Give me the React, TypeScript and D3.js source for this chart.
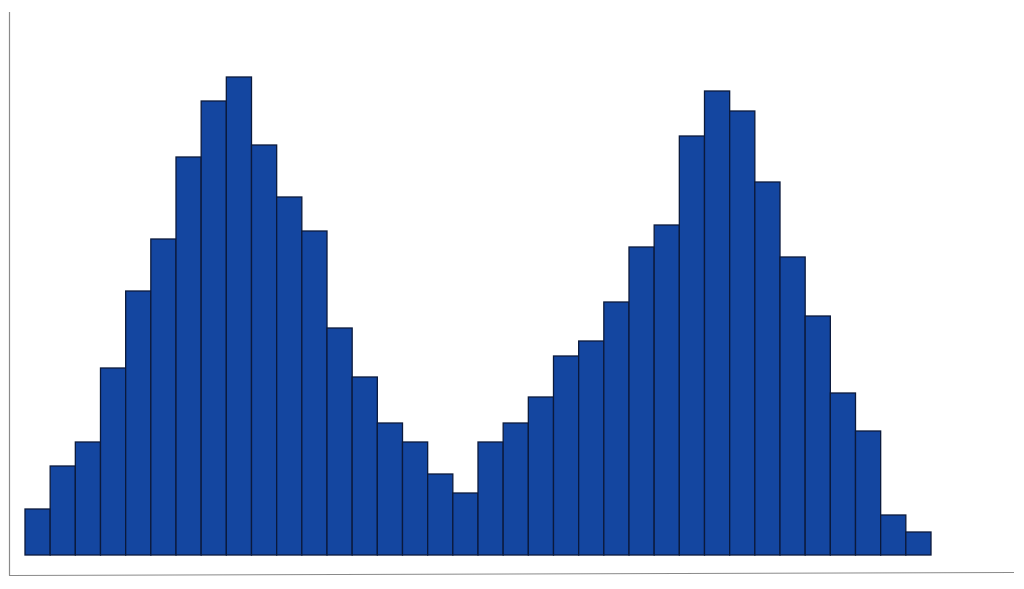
import React from "react";
import * as d3 from "d3";

const bins: number[] = Array.from({ length: 36 }, (_, i) => i);
const counts: number[] = [46, 89, 113, 187, 264, 316, 398, 454, 478, 410, 358, 324, 227, 178, 132, 113, 81, 62, 113, 132, 158, 199, 214, 253, 308, 330, 419, 464, 444, 373, 298, 239, 162, 124, 40, 23];

export default function App() {
  const W = 1024, H = 589;
  const x = d3.scaleBand<number>().domain(bins).range([25, 931]).padding(0);
  const y = d3.scaleLinear().domain([0, 500]).range([555, 55]);
  return (
    <svg width={W} height={H} style={{ position: "absolute", left: 0, top: 0, background: "#fff" }}>
      <line x1={9.5} y1={12} x2={9.5} y2={575.5} stroke="#8a8a8a" strokeWidth={1.2} />
      <line x1={9} y1={575.5} x2={1014} y2={572.5} stroke="#8a8a8a" strokeWidth={1.2} />
      {bins.map((b, i) => (
        <rect
          key={b}
          x={x(b)!}
          y={y(counts[i])}
          width={x.bandwidth()}
          height={y(0) - y(counts[i])}
          fill="#1446a0"
          stroke="#0b1a3c"
          strokeWidth={1.3}
        />
      ))}
    </svg>
  );
}
